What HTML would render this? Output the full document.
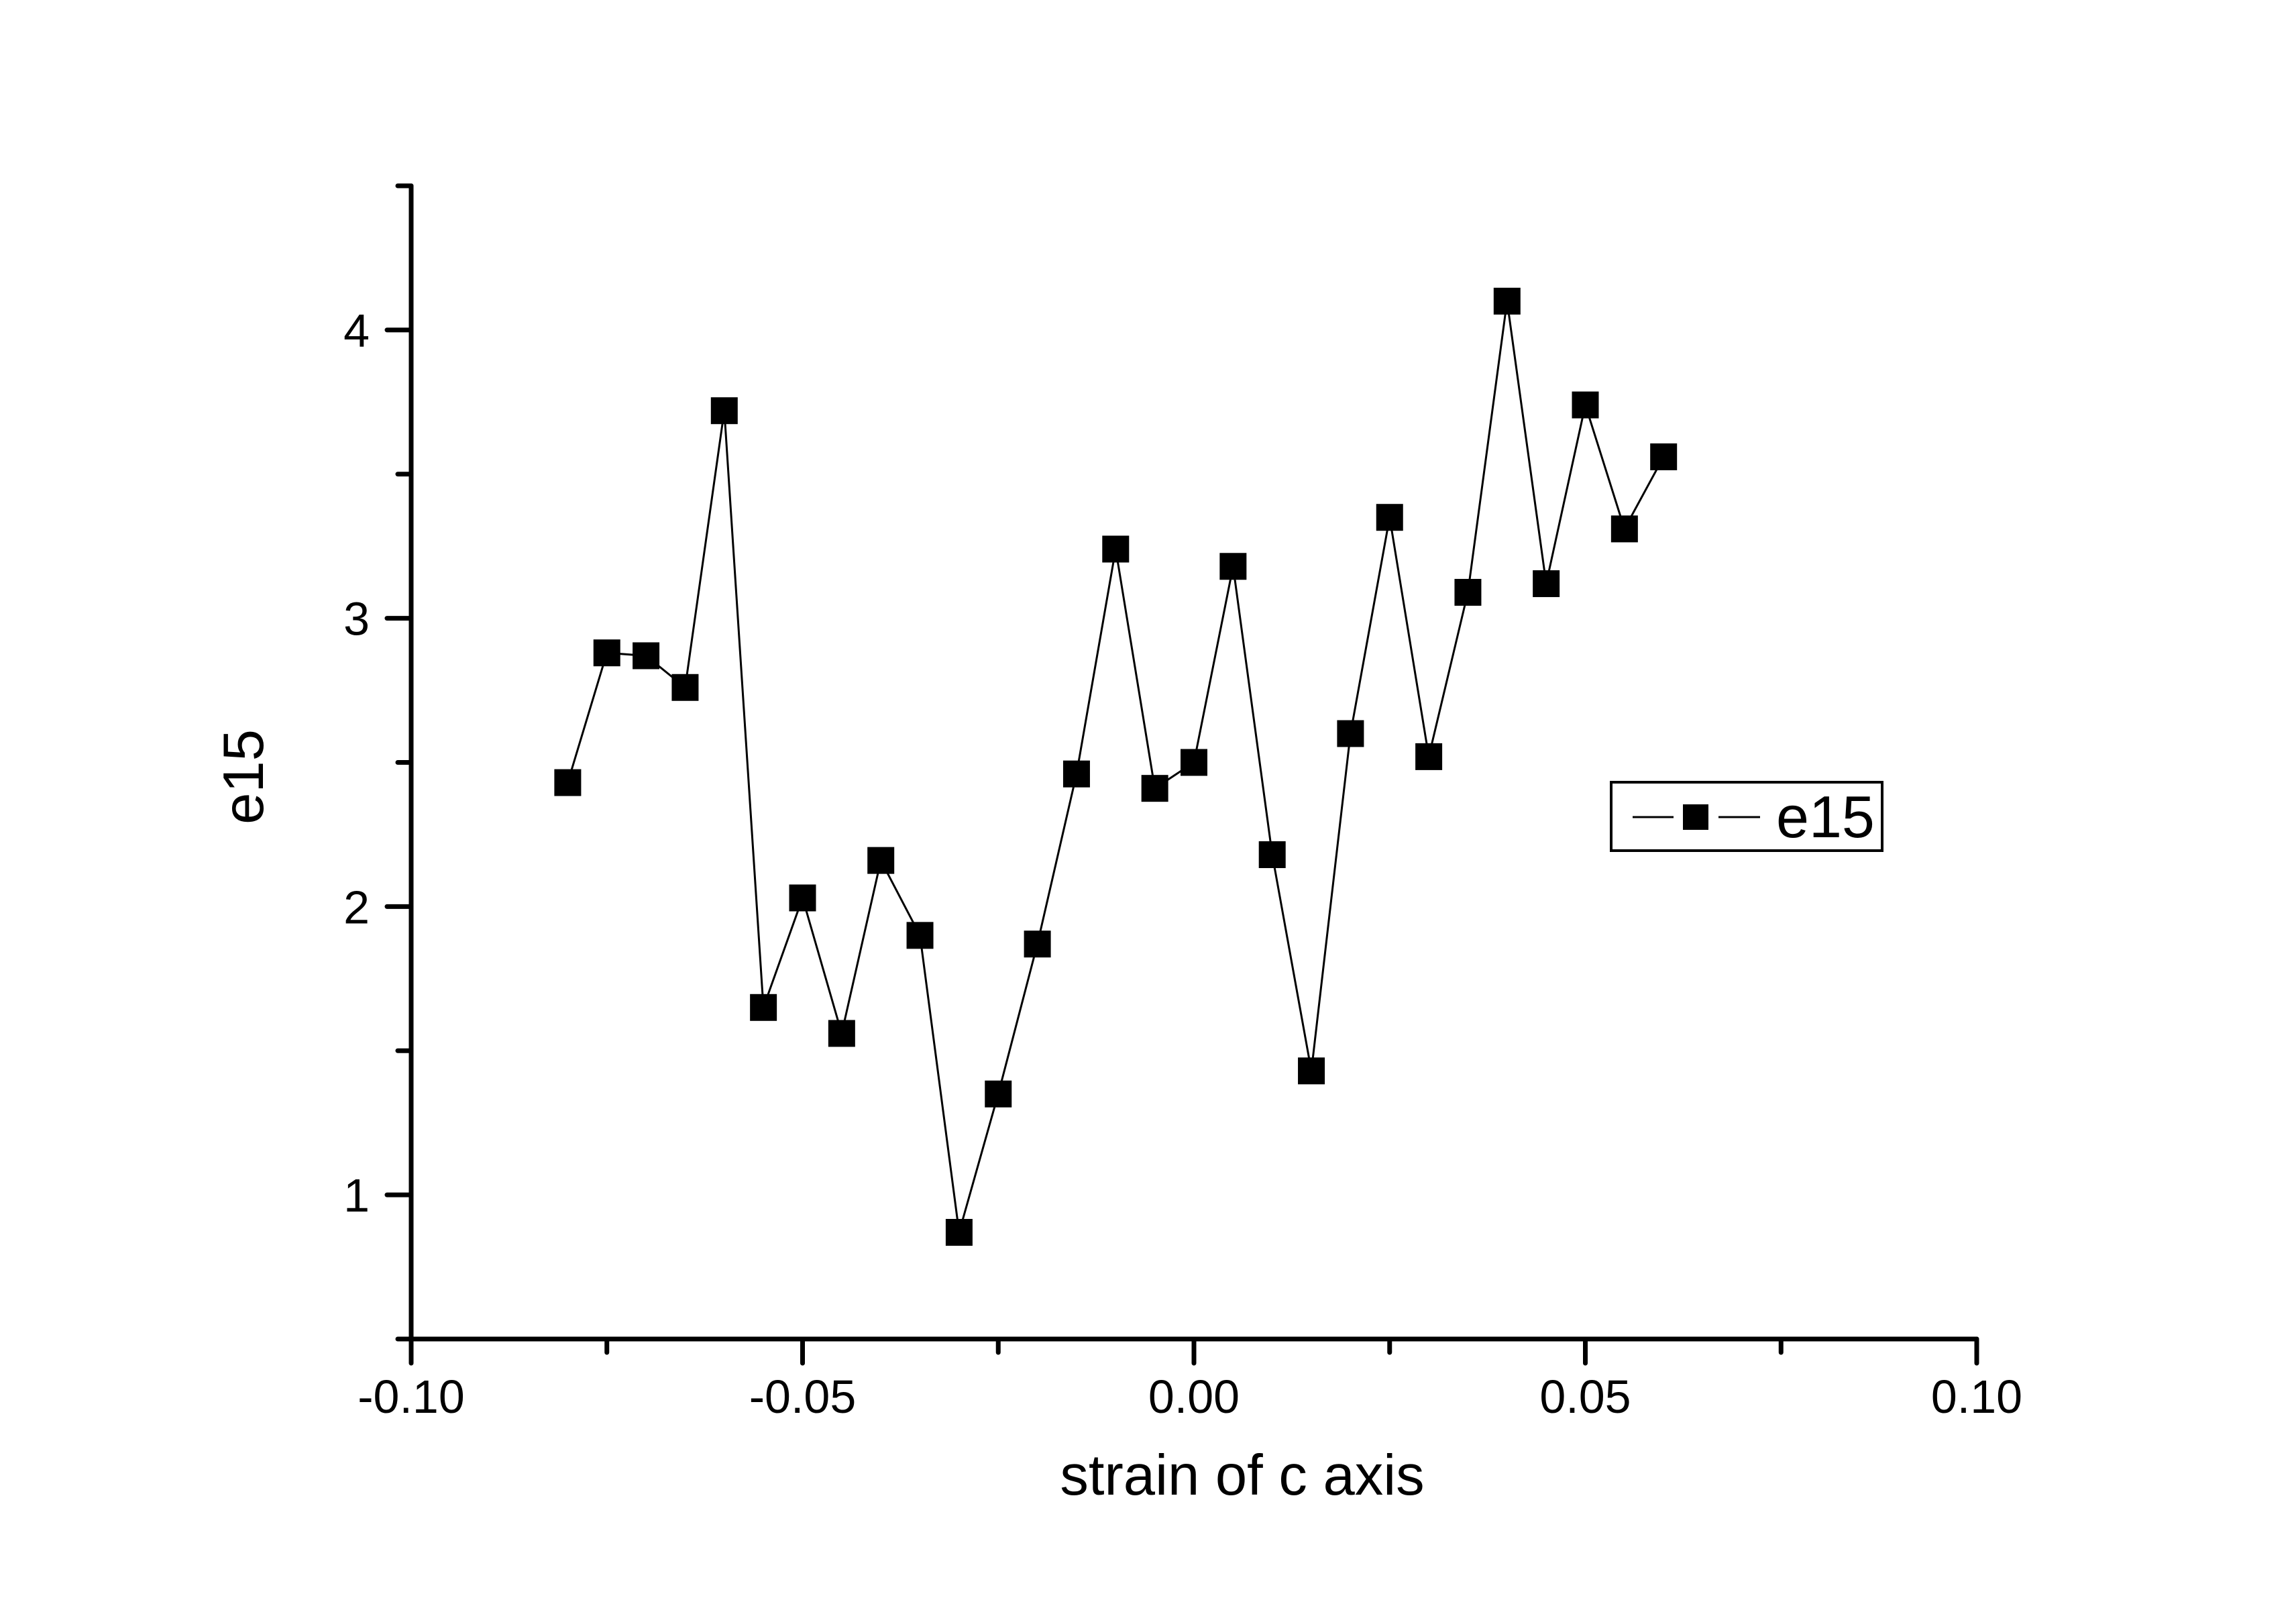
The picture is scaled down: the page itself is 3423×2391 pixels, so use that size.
<!DOCTYPE html>
<html><head><meta charset="utf-8"><style>
html,body{margin:0;padding:0;background:#fff}
svg{display:block}
text{font-family:"Liberation Sans",Arial,sans-serif;fill:#000}
</style></head><body>
<svg id="chart" width="3423" height="2391" viewBox="0 0 3423 2391" xmlns="http://www.w3.org/2000/svg">
<g id="axes"></g>
<g id="series"></g>
<text x="1852" y="2228" font-size="85" text-anchor="middle">strain of c axis</text>
<text x="0" y="0" font-size="85" text-anchor="middle" transform="translate(392,1158) rotate(-90)">e15</text>
<g>
<rect x="2402" y="1166" width="404" height="102" fill="#fff" stroke="#000" stroke-width="4"/>
<line x1="2434" y1="1218" x2="2495" y2="1218" stroke="#000" stroke-width="3"/>
<rect x="2509" y="1199" width="38" height="38" fill="#000"/>
<line x1="2562" y1="1218" x2="2624" y2="1218" stroke="#000" stroke-width="3"/>
<text x="2648" y="1248" font-size="88">e15</text>
</g>
</svg>
<script>
const xValues = [-0.08,-0.075,-0.07,-0.065,-0.06,-0.055,-0.05,-0.045,-0.04,-0.035,-0.03,-0.025,-0.02,-0.015,-0.01,-0.005,0,0.005,0.01,0.015,0.02,0.025,0.03,0.035,0.04,0.045,0.05,0.055,0.06];
const e15Values = [2.43,2.88,2.87,2.76,3.72,1.65,2.03,1.56,2.16,1.90,0.87,1.35,1.87,2.46,3.24,2.41,2.50,3.18,2.18,1.43,2.60,3.35,2.52,3.09,4.10,3.12,3.74,3.31,3.56];
const xTickLabels = ["-0.10","-0.05","0.00","0.05","0.10"];
const yTickLabels = ["1","2","3","4"];

const NS = "http://www.w3.org/2000/svg";
const X0 = 613, X1 = 2947, Y0 = 1996, Y1 = 277;
const xMin = -0.1, xMax = 0.1, yMin = 0.5, yMax = 4.5;
function sx(v){ return X0 + (v - xMin) / (xMax - xMin) * (X1 - X0); }
function sy(v){ return Y0 - (v - yMin) / (yMax - yMin) * (Y0 - Y1); }
function mk(tag, attrs, parent){
  const e = document.createElementNS(NS, tag);
  for (const k in attrs) e.setAttribute(k, attrs[k]);
  parent.appendChild(e);
  return e;
}
const axes = document.getElementById('axes');
const series = document.getElementById('series');

let el = mk('line', {x1:X0, y1:Y0, x2:X1, y2:Y0, stroke:'#000', 'stroke-width':7, 'stroke-linecap':'round'}, axes);


el = mk('line', {x1:X0, y1:Y0, x2:X0, y2:Y1, stroke:'#000', 'stroke-width':7, 'stroke-linecap':'round'}, axes);



for (let i = 0; i <= 8; i++) {
  const v = xMin + i * 0.025;
  const major = i % 2 === 0;
  const t = mk('line', {x1:sx(v), y1:Y0, x2:sx(v), y2:Y0 + (major ? 36 : 20), stroke:'#000', 'stroke-width':7, 'stroke-linecap':'round'}, axes);
  
  
}
xTickLabels.forEach(function(lab){
  const v = parseFloat(lab);
  const t = mk('text', {x:sx(v), y:2106, 'font-size':70, 'text-anchor':'middle'}, axes);
  t.textContent = lab;
  
  
});
for (let i = 0; i <= 8; i++) {
  const v = yMin + i * 0.5;
  const major = Math.abs(v - Math.round(v)) < 1e-9;
  const t = mk('line', {x1:X0, y1:sy(v), x2:X0 - (major ? 36 : 20), y2:sy(v), stroke:'#000', 'stroke-width':7, 'stroke-linecap':'round'}, axes);
  
  
}
yTickLabels.forEach(function(lab){
  const v = parseFloat(lab);
  const t = mk('text', {x:551, y:sy(v) + 25, 'font-size':70, 'text-anchor':'end'}, axes);
  t.textContent = lab;
  
  
});

const pts = xValues.map(function(x, i){ return sx(x) + ',' + sy(e15Values[i]); }).join(' ');
const pl = mk('polyline', {points:pts, fill:'none', stroke:'#000', 'stroke-width':3}, series);


const S = 40;
xValues.forEach(function(x, i){
  const r = mk('rect', {x:sx(x) - S/2, y:sy(e15Values[i]) - S/2, width:S, height:S, fill:'#000'}, series);
  
  
});
</script>
</body></html>
